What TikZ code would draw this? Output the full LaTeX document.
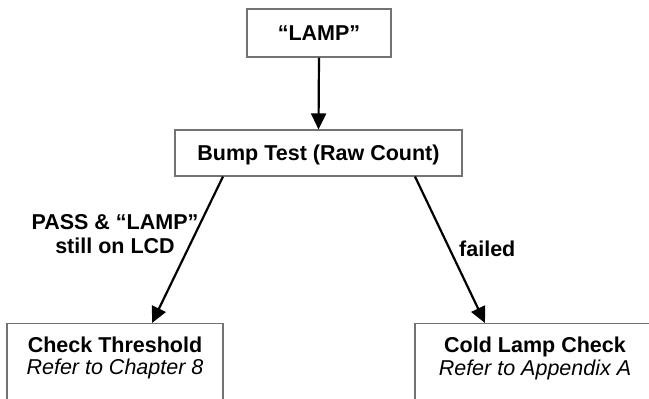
\documentclass[tikz,border=0pt]{standalone}
\usepackage{fontspec}
\setmainfont{Liberation Sans}
\usetikzlibrary{arrows.meta}
\begin{document}
\begin{tikzpicture}[x=1pt,y=-1pt,
  box/.style={draw=black!55, line width=1.1pt, fill=white, inner sep=0pt},
  conn/.style={line width=2.2pt, -{Triangle[length=16pt,width=15pt]}},
  txt/.style={inner sep=0pt, font=\fontsize{21.5}{22.5}\selectfont\bfseries},
  boxtxt/.style={txt, text height=15.4pt, text depth=0pt}
]
\useasboundingbox (0,0) rectangle (649,399);
\clip (0,0) rectangle (649,399);
\node[box, boxtxt, minimum width=144pt, minimum height=48pt] (lamp) at (319,33) {“LAMP”};
\node[box, boxtxt, minimum width=287pt, minimum height=46pt] (bump) at (318.5,153) {Bump Test (Raw Count)};
\node[box, minimum width=216pt, minimum height=120pt, anchor=north] (ct) at (115,323) {};
\node[box, minimum width=240pt, minimum height=120pt, anchor=north] (cl) at (535,323) {};
\node[txt, align=center, anchor=north] (ctt) at (115,336.5) {Check Threshold\\{\mdseries\itshape Refer to Chapter 8}};
\node[txt, align=center, anchor=north] (clt) at (535,337.2) {Cold Lamp Check\\{\mdseries\itshape Refer to Appendix A}};
\node[txt, align=center, anchor=north, font=\fontsize{21.5}{24}\selectfont\bfseries] (pass) at (115,214.4) {PASS \& “LAMP”\\still on LCD};
\node[txt, anchor=base west] (fail) at (459,256) {failed};
\draw[conn] (lamp.south) -- (bump.north);
\draw[conn] ([xshift=-95.5pt]bump.south) -- ([xshift=37pt]ct.north);
\draw[conn] ([xshift=96.5pt]bump.south) -- ([xshift=-50pt]cl.north);
\end{tikzpicture}
\end{document}
